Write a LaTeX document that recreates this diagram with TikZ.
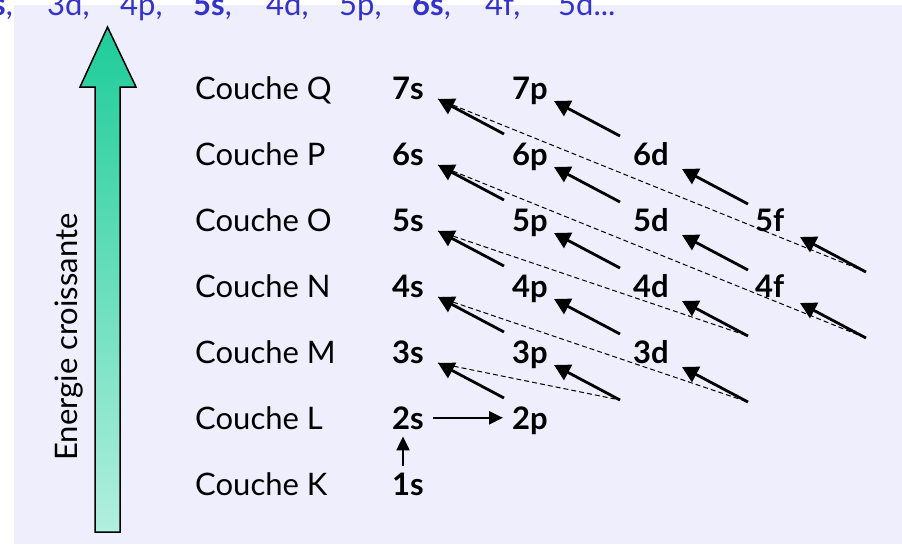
\documentclass[tikz,border=0pt]{standalone}
\usepackage{fontspec}
\setmainfont{Lato}
\usetikzlibrary{arrows.meta}
\definecolor{bgpage}{RGB}{238,238,253}
\definecolor{ordertext}{RGB}{51,51,204}
\definecolor{arrowtop}{RGB}{30,204,153}
\definecolor{arrowbot}{RGB}{178,239,222}
\begin{document}
\begin{tikzpicture}[x=1pt,y=-1pt,
  couche/.style={anchor=base west, inner sep=0pt, font=\fontsize{31}{36}\selectfont},
  orb/.style={anchor=base west, inner sep=0pt, font=\fontsize{31}{36}\selectfont\bfseries},
  fill arrow/.style={-{Triangle[length=16pt,width=17pt]}, line width=2.8pt},
  link arrow/.style={-{Triangle[length=14pt,width=13pt]}, line width=2.3pt},
  jump/.style={dash pattern=on 5pt off 3pt, line width=1pt}
]
\useasboundingbox (0,0) rectangle (902,544);
\clip (0,0) rectangle (902,544);
\fill[white] (0,0) rectangle (902,544);
\fill[bgpage] (14,5) rectangle (902,544);

% filling order, partly cut by the top edge
\node[anchor=base west, inner sep=0pt, text=ordertext, font=\fontsize{31}{36}\selectfont] (ordre) at (47,15)
  {\llap{\makebox[73pt][l]{\textbf{4s},}}\makebox[73pt][l]{3d,}\makebox[73pt][l]{4p,}\makebox[73pt][l]{\textbf{5s},}\makebox[73pt][l]{4d,}\makebox[73pt][l]{5p,}\makebox[73pt][l]{\textbf{6s},}\makebox[73pt][l]{4f,}5d...};

% energy axis
\path[draw=black, line width=1.5pt, line join=miter, top color=arrowtop, bottom color=arrowbot]
  (107.5,27) -- (136,87) -- (120,87) -- (120,532) -- (95,532) -- (95,87) -- (80,87) -- cycle;
\node[rotate=90, anchor=base, inner sep=0pt, font=\fontsize{31}{36}\selectfont] (energie) at (77,337) {Energie croissante};

% shells
\foreach \n/\lab in {7/Q,6/P,5/O,4/N,3/M,2/L,1/K}
  \node[couche] (couche\lab) at (195,{99+(7-\n)*66}) {Couche \lab};

% subshells
\node[orb] (o7s) at (392,99)  {7s};
\node[orb] (o6s) at (392,165) {6s};
\node[orb] (o5s) at (392,231) {5s};
\node[orb] (o4s) at (392,297) {4s};
\node[orb] (o3s) at (392,363) {3s};
\node[orb] (o2s) at (392,429) {2s};
\node[orb] (o1s) at (392,495) {1s};
\node[orb] (o7p) at (512,99)  {7p};
\node[orb] (o6p) at (512,165) {6p};
\node[orb] (o5p) at (512,231) {5p};
\node[orb] (o4p) at (512,297) {4p};
\node[orb] (o3p) at (512,363) {3p};
\node[orb] (o2p) at (512,429) {2p};
\node[orb] (o6d) at (633,165) {6d};
\node[orb] (o5d) at (633,231) {5d};
\node[orb] (o4d) at (633,297) {4d};
\node[orb] (o3d) at (633,363) {3d};
\node[orb] (o5f) at (755,231) {5f};
\node[orb] (o4f) at (755,297) {4f};

% arrow tips (t) and tails (f) of the diagonals
\foreach \o/\tx/\ty in {3s/438/363, 3p/554/365, 3d/682/367,
                        4s/438/297, 4p/554/299, 4d/682/301, 4f/800/303,
                        5s/438/231, 5p/554/233, 5d/682/235, 5f/800/237,
                        6s/438/165, 6p/554/167, 6d/682/169,
                        7s/438/99,  7p/554/101} {
  \coordinate (t\o) at (\tx,\ty);
  \coordinate (f\o) at (\tx+66,\ty+35);
}

% jumps from the end of one diagonal to the start of the next
\draw[jump] (t3s) -- (f3p);
\draw[jump] (t4s) -- (f3d);
\draw[jump] (t5s) -- (f4d);
\draw[jump] (t6s) -- (f4f);
\draw[jump] (t7s) -- (f5f);

% diagonals
\foreach \o in {3s,3p,3d,4s,4p,4d,4f,5s,5p,5d,5f,6s,6p,6d,7s,7p}
  \draw[fill arrow] (f\o) -- (t\o);

% first steps
\draw[link arrow, shorten <=6pt, shorten >=7pt] ([xshift=-5pt]o1s.north) -- ([xshift=-5pt]o2s.south);
\draw[link arrow, shorten <=9pt, shorten >=9pt] (o2s.east) -- (o2s.east -| o2p.west);
\end{tikzpicture}
\end{document}
